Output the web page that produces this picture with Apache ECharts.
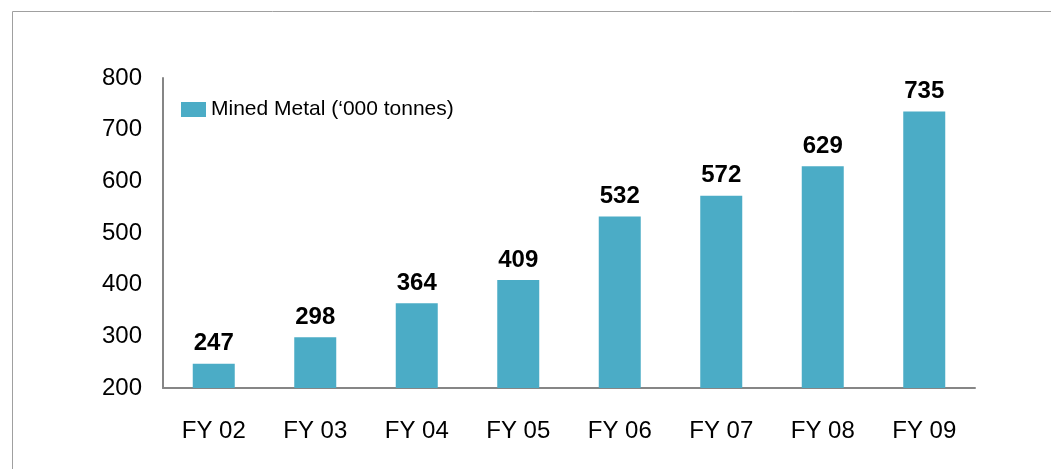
<!DOCTYPE html>
<html><head><meta charset="utf-8">
<script src="https://cdn.jsdelivr.net/npm/echarts@6/dist/echarts.min.js"></script>
<style>html,body{margin:0;padding:0;background:#fff}#c{width:1051px;height:469px}</style>
</head><body><div id="c"></div>
<script>
const categories = ['FY 02','FY 03','FY 04','FY 05','FY 06','FY 07','FY 08','FY 09'];
const minedMetal = [247, 298, 364, 409, 532, 572, 629, 735];
const seriesName = 'Mined Metal (\u2018000 tonnes)';
const yMin = 200, yMax = 800, yStep = 100;

const chart = echarts.init(document.getElementById('c'), null, {renderer:'canvas'});
const font = '"Liberation Sans", Arial, sans-serif';
chart.setOption({
  animation: false,
  textStyle: {fontFamily: font},
  graphic: [{
    type: 'polyline',
    shape: {points: [[12.5, 480], [12.5, 11.5], [1060, 11.5]]},
    style: {stroke: '#a0a0a0', lineWidth: 1, fill: null}
  }],
  grid: {left: 163, right: 76, top: 78, bottom: 81},
  legend: {
    left: 176, top: 94, itemWidth: 25, itemHeight: 15, itemGap: 10,
    icon: 'rect',
    textStyle: {fontSize: 21, color: '#000', fontFamily: font, padding: [0,0,0,0]},
    data: [seriesName]
  },
  xAxis: {
    type: 'category', data: categories,
    axisLine: {lineStyle: {color: '#868686', width: 2}},
    axisTick: {show: false},
    axisLabel: {fontSize: 24, color: '#000', margin: 31, fontFamily: font}
  },
  yAxis: {
    type: 'value', min: yMin, max: yMax, interval: yStep,
    axisLine: {show: true, lineStyle: {color: '#868686', width: 2}},
    axisTick: {show: false},
    splitLine: {show: false},
    axisLabel: {fontSize: 24, color: '#000', margin: 21, fontFamily: font}
  },
  series: [{
    name: seriesName, type: 'bar', data: minedMetal, barWidth: 42,
    itemStyle: {color: '#4BACC6'},
    label: {show: true, position: 'top', distance: 8, fontSize: 24, fontWeight: 'bold', color: '#000', fontFamily: font}
  }]
});
</script></body></html>
